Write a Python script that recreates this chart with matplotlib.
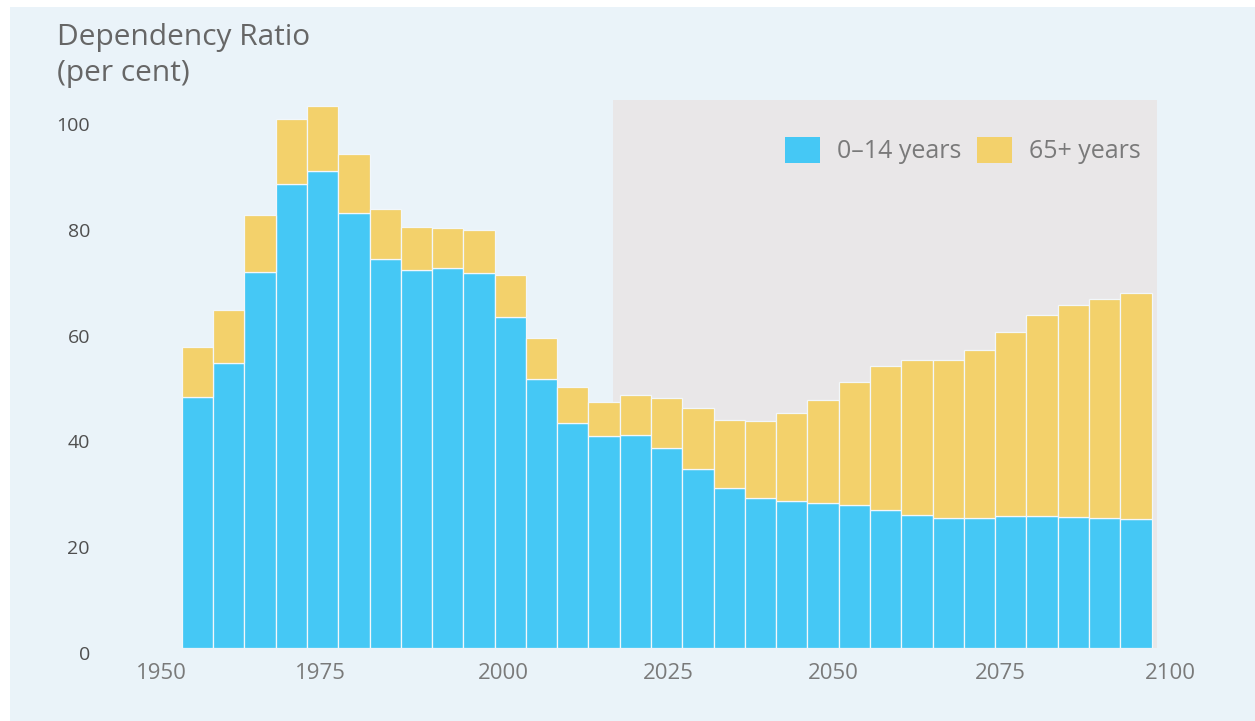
import matplotlib
matplotlib.use("Agg")
import matplotlib.pyplot as plt
import matplotlib.transforms as mtransforms
from matplotlib.patches import Rectangle, Patch

# Dependency ratio (per cent), 5-year steps
years = [1950, 1955, 1960, 1965, 1970, 1975, 1980, 1985, 1990, 1995, 2000,
         2005, 2010, 2015, 2020, 2025, 2030, 2035, 2040, 2045, 2050, 2055,
         2060, 2065, 2070, 2075, 2080, 2085, 2090, 2095, 2100]
young = [47.4, 53.9, 71.1, 87.7, 90.2, 82.2, 73.5, 71.5, 71.8, 70.9, 62.6,
         50.9, 42.5, 40.1, 40.3, 37.8, 33.8, 30.2, 28.4, 27.8, 27.4, 27.0,
         26.1, 25.1, 24.6, 24.6, 25.0, 25.0, 24.8, 24.6, 24.4]
total = [56.9, 63.9, 81.9, 100.0, 102.5, 93.4, 83.0, 79.6, 79.4, 79.0, 70.5,
         58.6, 49.3, 46.5, 47.8, 47.3, 45.4, 43.1, 42.9, 44.4, 46.9, 50.3,
         53.3, 54.4, 54.4, 56.3, 59.7, 62.9, 64.8, 66.0, 67.1]
old = [t - y for t, y in zip(total, young)]

tick_labels = ["1950", "1975", "2000", "2025", "2050", "2075", "2100"]
# label positions as drawn on the original (not evenly spaced)
tick_pos = [1944.2, 1969.7, 1998.9, 2025.2, 2051.7, 2078.3, 2105.5]

# projection period shading
proj_start, proj_end, proj_top = 2016.4, 2103.4, 103.6

blue = "#45c8f5"
yellow = "#f3d16b"
panel = "#eaf3f9"
shade = "#e9e7e8"

plt.rcParams["font.family"] = ["Open Sans", "DejaVu Sans"]

fig = plt.figure(figsize=(12.55, 7.21), dpi=100, facecolor="white")
bg = Rectangle((10 / 1255, 0), 1, 1 - 7 / 721, transform=fig.transFigure,
               facecolor=panel, edgecolor="none", zorder=-1)
fig.add_artist(bg)

ax = fig.add_axes([140 / 1255, 73 / 721, 1060 / 1255, 558 / 721])
ax.set_facecolor("none")
ax.set_zorder(1)

ax.add_patch(Rectangle((proj_start, 0), proj_end - proj_start, proj_top,
                       facecolor=shade, edgecolor="none", zorder=0))

ax.bar(years, young, width=5, color=blue, edgecolor="#f2f7fa", linewidth=0.9, zorder=2)
ax.bar(years, old, bottom=young, width=5, color=yellow, edgecolor="#f2f7fa",
       linewidth=0.9, zorder=2)

ax.set_xlim(1940.81, 2110.25)
ax.set_ylim(0, 105.5)
for s in ax.spines.values():
    s.set_visible(False)

ax.set_yticks([0, 20, 40, 60, 80, 100])
ax.tick_params(axis="y", length=0, pad=36, labelsize=14, labelcolor="#4f4f4f")
ax.set_xticks(tick_pos)
ax.set_xticklabels(tick_labels)
ax.tick_params(axis="x", length=0, pad=11, labelsize=16, labelcolor="#7a7a7a")

off = mtransforms.ScaledTranslation(0, -5 / 100, fig.dpi_scale_trans)
for lab in ax.get_yticklabels():
    lab.set_transform(lab.get_transform() + off)

fig.text(57 / 1255, 1 - 23 / 721, "Dependency Ratio\n(per cent)", ha="left", va="top",
         fontsize=21.5, color="#666666", linespacing=1.3)

handles = [Patch(facecolor=blue, edgecolor="none"), Patch(facecolor=yellow, edgecolor="none")]
ax.legend(handles, ["0–14 years", "65+ years"], ncol=2, frameon=False,
          loc="upper right", bbox_to_anchor=(1151 / 1255, 1 - 127 / 721),
          bbox_transform=fig.transFigure, fontsize=18, labelcolor="#7a7a7a",
          handlelength=1.4, handleheight=1.2, handletextpad=0.7,
          columnspacing=0.6, borderaxespad=0)

fig.savefig("out.png", dpi=100, facecolor=fig.get_facecolor())
